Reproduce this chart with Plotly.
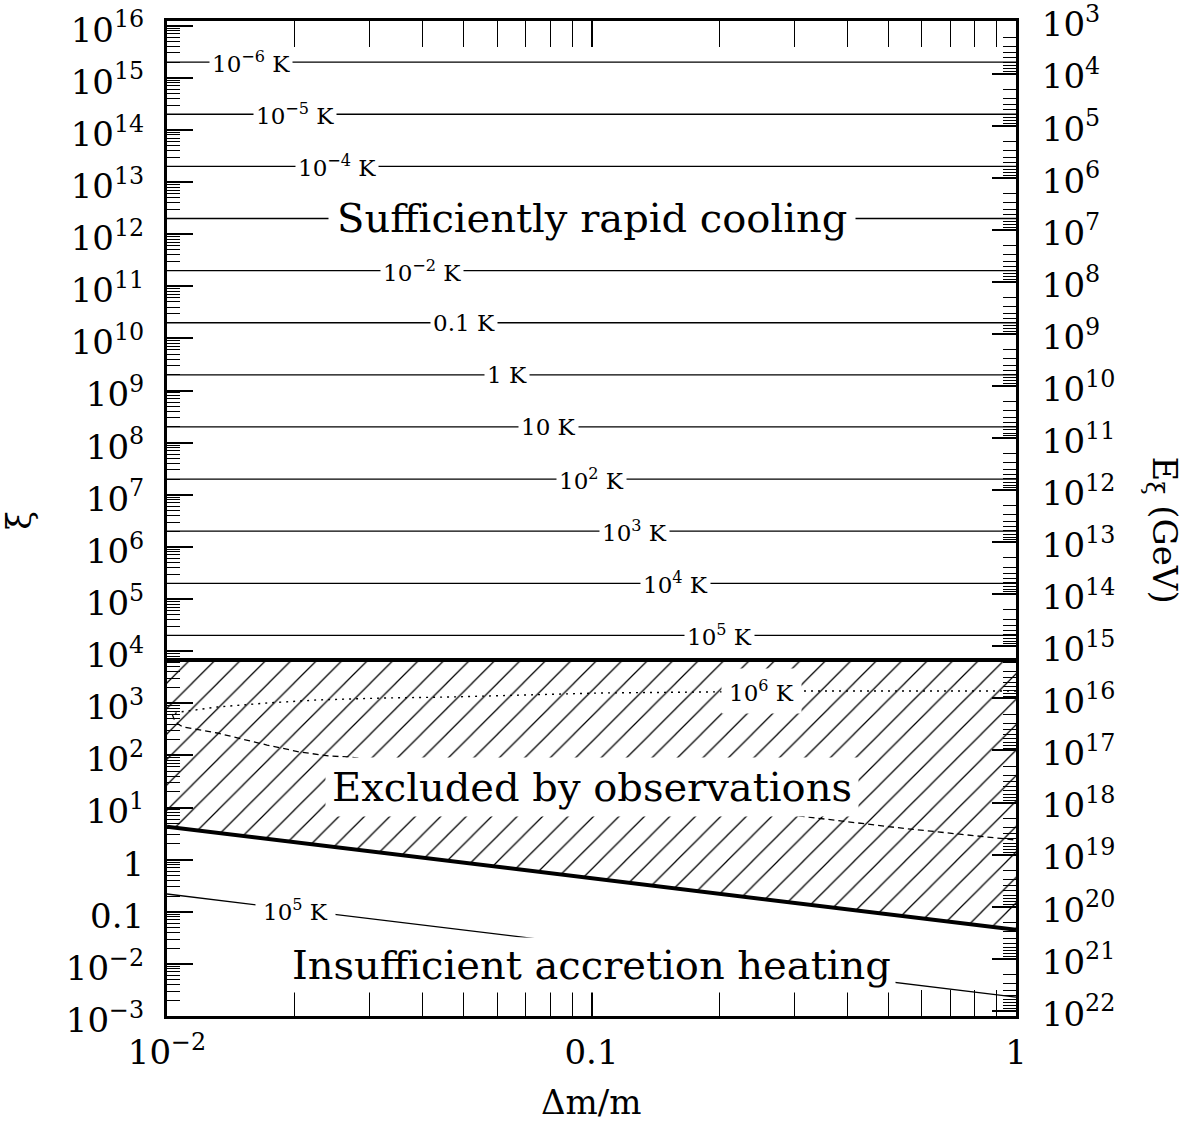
import numpy as np
import plotly.graph_objects as go

# ---------------- data ----------------
x_ends = [0.01, 1.0]

# constant-xi isotherms in the "rapid cooling" region (10^-6 K ... 10^5 K)
iso_xi = [2e15, 2e14, 2e13, 2e12, 2e11, 2e10, 2e9, 2e8, 2e7, 2e6, 2e5, 2e4]
iso_labels = ["10<sup>−6</sup> K", "10<sup>−5</sup> K", "10<sup>−4</sup> K", None,
              "10<sup>−2</sup> K", "0.1 K", "1 K", "10 K", "10<sup>2</sup> K",
              "10<sup>3</sup> K", "10<sup>4</sup> K", "10<sup>5</sup> K"]
iso_label_x = [0.0158, 0.0200, 0.0251, None, 0.0398, 0.0501, 0.0631, 0.0794,
               0.100, 0.126, 0.158, 0.200]

# excluded band boundaries
upper_bound_xi = [6.8e3, 6.8e3]
lower_bound_xi = [4.3, 0.045]

# 10^6 K contour: upper (dotted) and lower (dashed) branches
t6_dot_x = [1.0, 0.322, 0.1047, 0.04645, 0.03229, 0.02256, 0.01721, 0.01312, 0.01073, 0.01028]
t6_dot_y = [1718, 1718, 1574, 1318, 1262, 1156, 1012, 847, 679, 622]
t6_dash_x = [0.01028, 0.01039, 0.01062, 0.01091, 0.01312, 0.01721, 0.02056, 0.02420,
             0.02698, 0.322, 0.533, 1.0]
t6_dash_y = [622, 499, 400, 350, 269, 158, 116, 97, 93, 6.6, 4.05, 2.38]

# 10^5 K contour in the accretion region
t5_low_x = [0.01, 1.0]
t5_low_y = [0.219, 0.00231]

# axis ticks
y_tick_vals = [10.0 ** k for k in range(-3, 17)]
y_tick_text = ["10<sup>−3</sup>", "10<sup>−2</sup>", "0.1", "1", "10<sup>1</sup>"] + \
              ["10<sup>%d</sup>" % k for k in range(2, 17)]
e_tick_vals = [10.0 ** k for k in range(3, 23)]
e_tick_text = ["10<sup>%d</sup>" % k for k in range(3, 23)]
x_tick_vals = [0.01, 0.1, 1.0]
x_tick_text = ["10<sup>−2</sup>", "0.1", "1"]

FONT = "DejaVu Serif"

fig = go.Figure()

# hatched excluded band
fig.add_trace(go.Scatter(x=x_ends, y=lower_bound_xi, mode="lines",
                         line=dict(color="black", width=4), hoverinfo="skip"))
fig.add_trace(go.Scatter(x=x_ends, y=upper_bound_xi, mode="lines",
                         line=dict(color="black", width=4), fill="tonexty",
                         fillcolor="rgba(255,255,255,0)",
                         fillpattern=dict(shape="/", size=18, solidity=0.07,
                                          fgcolor="black", bgcolor="rgba(255,255,255,0)"),
                         hoverinfo="skip"))

# isotherms
for xi in iso_xi:
    fig.add_trace(go.Scatter(x=x_ends, y=[xi, xi], mode="lines",
                             line=dict(color="black", width=1.3), hoverinfo="skip"))

fig.add_trace(go.Scatter(x=t6_dot_x, y=t6_dot_y, mode="lines",
                         line=dict(color="black", width=1.4, dash="2px,5px"), hoverinfo="skip"))
fig.add_trace(go.Scatter(x=t6_dash_x, y=t6_dash_y, mode="lines",
                         line=dict(color="black", width=1.3, dash="6px,4px"), hoverinfo="skip"))
fig.add_trace(go.Scatter(x=t5_low_x, y=t5_low_y, mode="lines",
                         line=dict(color="black", width=1.3), hoverinfo="skip"))

# dummy trace to activate the right-hand E axis
fig.add_trace(go.Scatter(x=[0.1], y=[1e10], yaxis="y2", mode="markers",
                         marker=dict(opacity=0), hoverinfo="skip"))

ann = []
lab_font = dict(family=FONT, size=23, color="black")
big_font = dict(family=FONT, size=40, color="black")
for lab, lx, xi in zip(iso_labels, iso_label_x, iso_xi):
    if lab is None:
        continue
    ann.append(dict(x=np.log10(lx), y=np.log10(xi), text=lab, showarrow=False,
                    font=lab_font, bgcolor="white", borderpad=2,
                    xanchor="center", yanchor="middle"))
ann.append(dict(x=np.log10(0.251), y=np.log10(1718), text="10<sup>6</sup> K", showarrow=False,
                font=lab_font, bgcolor="white", borderpad=7,
                xanchor="center", yanchor="middle"))
ann.append(dict(x=np.log10(0.0201), y=np.log10(0.1097), text="10<sup>5</sup> K", showarrow=False,
                font=lab_font, bgcolor="white", borderpad=7,
                xanchor="center", yanchor="middle"))
ann.append(dict(x=-1.0, y=np.log10(2e12), text="Sufficiently rapid cooling", showarrow=False,
                font=big_font, bgcolor="white", borderpad=8, xanchor="center", yanchor="middle"))
ann.append(dict(x=-1.0, y=np.log10(25.0), text="Excluded by observations", showarrow=False,
                font=big_font, bgcolor="white", borderpad=6, xanchor="center", yanchor="middle"))
ann.append(dict(x=-1.0, y=np.log10(0.0095), text="Insufficient accretion heating", showarrow=False,
                font=big_font, bgcolor="white", borderpad=4, xanchor="center", yanchor="middle"))
# axis titles
ann.append(dict(xref="paper", yref="paper", x=0.5, y=-0.086, text="Δm/m", showarrow=False,
                font=dict(family=FONT, size=34, color="black"), xanchor="center", yanchor="middle"))
ann.append(dict(xref="paper", yref="paper", x=-0.174, y=0.498, text="ξ", showarrow=False,
                textangle=-90, font=dict(family=FONT, size=34, color="black"),
                xanchor="center", yanchor="middle"))
ann.append(dict(xref="paper", yref="paper", x=1.173, y=0.488, text="E<sub>ξ</sub> (GeV)",
                showarrow=False, textangle=90, font=dict(family=FONT, size=34, color="black"),
                xanchor="center", yanchor="middle"))

tickfont = dict(family=FONT, size=34, color="black")
minor = dict(ticks="inside", ticklen=13, tickwidth=1.3, tickcolor="black", dtick="D1", showgrid=False)

fig.update_layout(
    template="none",
    width=1190, height=1124,
    margin=dict(l=167, r=174, t=21, b=108, autoexpand=False),
    paper_bgcolor="white", plot_bgcolor="white",
    showlegend=False,
    annotations=ann,
    xaxis=dict(type="log", range=[-2, 0], tickmode="array", tickvals=x_tick_vals,
               ticktext=x_tick_text, ticks="inside", ticklen=26, tickwidth=2,
               tickcolor="black", minor=minor, showgrid=False, zeroline=False,
               showline=True, linecolor="black", linewidth=3, mirror="allticks",
               tickfont=tickfont, ticklabelstandoff=4, automargin=False,
               ticklabeloverflow="allow"),
    yaxis=dict(type="log", range=[-3, 16.09], tickmode="array", tickvals=y_tick_vals,
               ticktext=y_tick_text, ticks="inside", ticklen=26, tickwidth=2,
               tickcolor="black", minor=minor, showgrid=False, zeroline=False,
               showline=True, linecolor="black", linewidth=3, mirror=False,
               tickfont=tickfont, ticklabelstandoff=13, ticklabelshift=4,
               automargin=False, ticklabeloverflow="allow"),
    yaxis2=dict(type="log", range=[22.1, 2.99], overlaying="y", side="right",
                tickmode="array", tickvals=e_tick_vals, ticktext=e_tick_text,
                ticks="inside", ticklen=24, tickwidth=2, tickcolor="black", minor=minor,
                showgrid=False, zeroline=False, showline=True, linecolor="black",
                linewidth=3, tickfont=tickfont, ticklabelstandoff=16, ticklabelshift=-3,
                automargin=False, ticklabeloverflow="allow"),
)

# remove the browser's default 8 px body margin so the figure sits at the page origin
fig.write_html("out.html", config={"displayModeBar": False},
               post_script="document.body.style.margin='0';")
